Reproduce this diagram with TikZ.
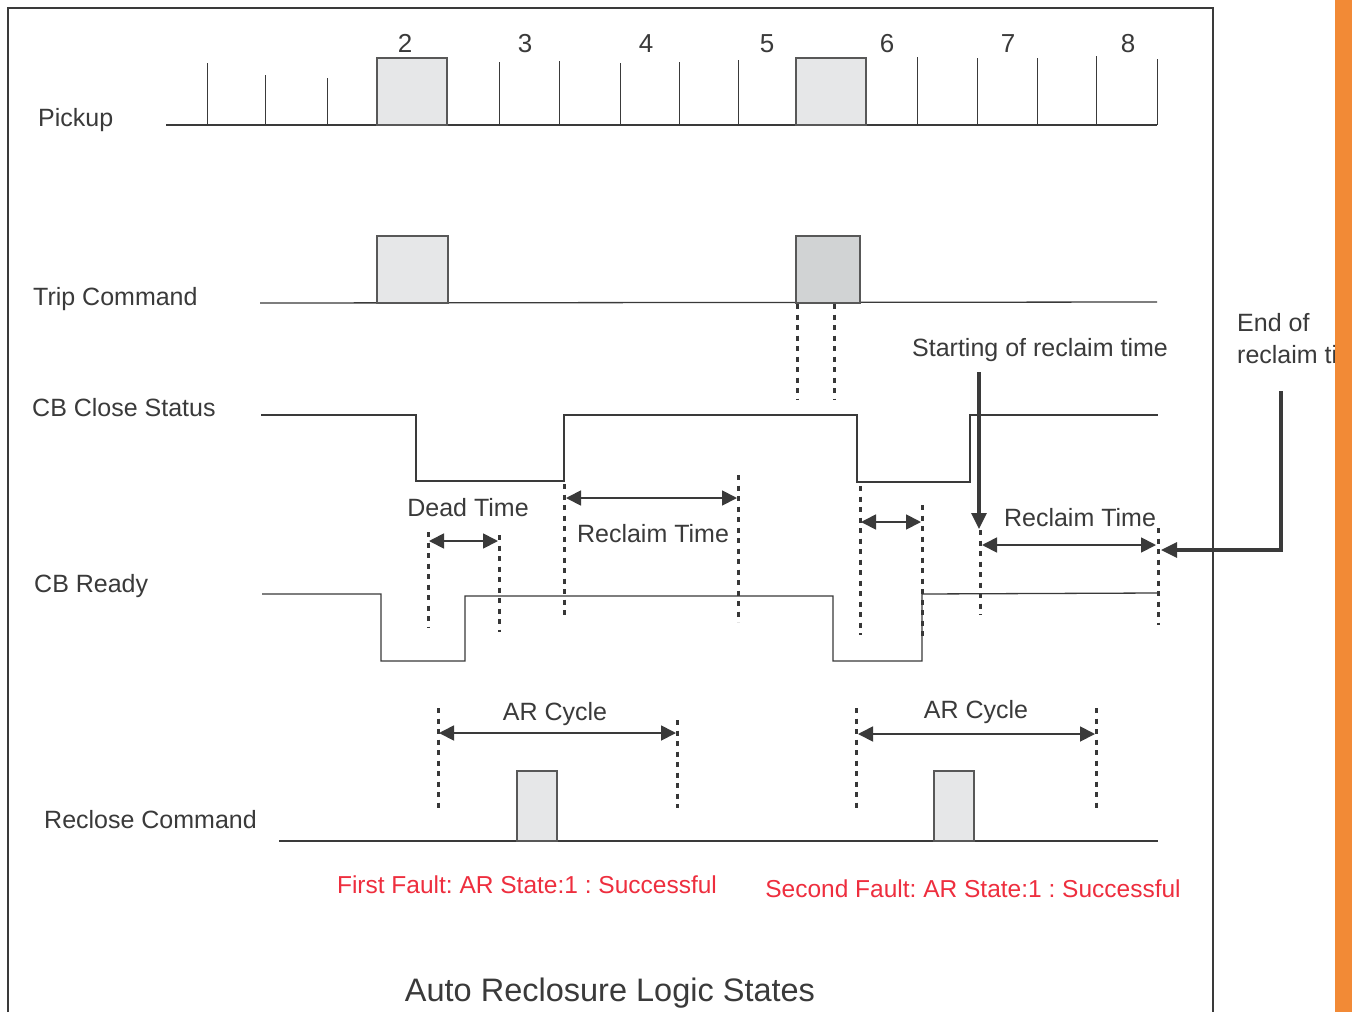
\documentclass[tikz,border=0pt]{standalone}
\usepackage{fontspec}
\setmainfont{Liberation Sans}
\usetikzlibrary{arrows.meta}
\definecolor{ln}{HTML}{3A3A3A}
\definecolor{boxfill}{HTML}{E6E7E8}
\definecolor{boxdark}{HTML}{D1D3D4}
\definecolor{redtxt}{HTML}{EE2E3E}
\definecolor{orangebar}{HTML}{F28A36}
\frenchspacing
\begin{document}
\begin{tikzpicture}[x=1pt,y=-1pt,
  sig/.style={draw=ln,line width=1.3pt},
  tickline/.style={draw=ln,line width=1pt},
  pulse/.style={draw=ln!85,line width=1.2pt,fill=boxfill},
  dots/.style={draw=ln!95!black,line width=3pt,dash pattern=on 5pt off 5.5pt},
  dim/.style={draw=ln,line width=1.8pt,{Triangle[length=15pt,width=15pt]}-{Triangle[length=15pt,width=15pt]}},
  pointer/.style={draw=ln,line width=3.2pt,-{Triangle[length=16pt,width=15pt]}},
  lbl/.style={font=\fontsize{25}{28}\selectfont,text=ln,inner sep=0pt},
  num/.style={font=\fontsize{26}{30}\selectfont,text=ln,inner sep=0pt,anchor=base},
  redlbl/.style={font=\fontsize{24.5}{28}\selectfont,text=redtxt,inner sep=0pt,anchor=base},
  titlelbl/.style={font=\fontsize{32.5}{36}\selectfont,text=ln,inner sep=0pt,anchor=base}
]
% canvas
\fill[white] (0,0) rectangle (1352,1012);
\useasboundingbox (0,0) rectangle (1352,1012);
% frame
\draw[draw=ln,line width=1.2pt] (8,1012) -- (8,8) -- (1213,8) -- (1213,1012);

% ---------- Pickup ----------
\node[lbl,anchor=base west] (lpick) at (38,126) {Pickup};
\draw[sig] (166,125) -- (1157,125);
\foreach \x/\t in {207/63,265/75,327/78,499/62,559/61,620/63,679/62,738/60,917/57,977/58,1037/58,1096/56,1157/59}
  \draw[tickline] (\x,125) -- (\x,\t);
\draw[pulse] (377,125) rectangle (447,58);
\draw[pulse] (796,125) rectangle (866,58);
\foreach \x/\n in {405/2,525/3,646/4,767/5,887/6,1008/7,1128/8}
  \node[num] (n\n) at (\x,52) {\n};

% ---------- Trip Command ----------
\node[lbl,anchor=base west] (ltrip) at (33,305) {Trip Command};
\draw[sig] (260,303) -- (1157,302);
\draw[pulse] (377,303) rectangle (448,236);
\draw[pulse,fill=boxdark] (796,303) rectangle (860,236);
\draw[dots] (797,304) -- (797,400);
\draw[dots] (834,304) -- (834,400);

% ---------- CB Close Status ----------
\node[lbl,anchor=base west] (lclose) at (32,416) {CB Close Status};
\draw[sig] (261,415) -- (416,415) -- (416,481) -- (564,481) -- (564,415)
  -- (857,415) -- (857,482) -- (970,482) -- (970,415) -- (1158,415);

% reclaim time 1
\draw[dots] (564,484) -- (564,620);
\draw[dots] (738,475) -- (738,622);
\coordinate (rt1a) at (566,498);
\coordinate (rt1b) at (737,498);
\draw[dim] (rt1a) -- (rt1b);
\node[lbl,anchor=base] (lrt1) at (653,542) {Reclaim Time};

% dead time 1
\node[lbl,anchor=base] (ldt) at (468,516) {Dead Time};
\draw[dots] (428,532) -- (428,628);
\draw[dots] (499,535) -- (499,632);
\coordinate (dt1a) at (429,541);
\coordinate (dt1b) at (498,541);
\draw[dim] (dt1a) -- (dt1b);

% dead time 2
\draw[dots] (860,486) -- (860,635);
\draw[dots] (922,505) -- (922,640);
\coordinate (dt2a) at (861,522);
\coordinate (dt2b) at (921,522);
\draw[dim] (dt2a) -- (dt2b);

% reclaim time 2
\draw[dots] (980,530) -- (980,615);
\draw[dots] (1158,528) -- (1158,625);
\coordinate (rt2a) at (982,545);
\coordinate (rt2b) at (1156,545);
\draw[dim] (rt2a) -- (rt2b);
\node[lbl,anchor=base] (lrt2) at (1080,526) {Reclaim Time};

% starting of reclaim time
\node[lbl,anchor=base] (lstart) at (1040,356) {Starting of reclaim time};
\coordinate (st0) at (979,372);
\coordinate (st1) at (979,529);
\draw[pointer] (st0) -- (st1);

% ---------- CB Ready ----------
\node[lbl,anchor=base west] (lready) at (34,592) {CB Ready};
\draw[sig] (262,594) -- (381,594) -- (381,661) -- (465,661) -- (465,596)
  -- (833,596) -- (833,661) -- (922,661) -- (922,594) -- (1157,593);

% ---------- AR cycles ----------
\draw[dots] (438,708) -- (438,808);
\draw[dots] (677,720) -- (677,808);
\coordinate (ar1a) at (439,733);
\coordinate (ar1b) at (676,733);
\draw[dim] (ar1a) -- (ar1b);
\node[lbl,anchor=base] (lar1) at (555,720) {AR Cycle};

\draw[dots] (856,708) -- (856,808);
\draw[dots] (1096,708) -- (1096,808);
\coordinate (ar2a) at (858,734);
\coordinate (ar2b) at (1095,734);
\draw[dim] (ar2a) -- (ar2b);
\node[lbl,anchor=base] (lar2) at (976,718) {AR Cycle};

% ---------- Reclose Command ----------
\node[lbl,anchor=base west] (lreclose) at (44,828) {Reclose Command};
\draw[sig] (279,841) -- (1158,841);
\draw[pulse] (517,841) rectangle (557,771);
\draw[pulse] (934,841) rectangle (974,771);

% ---------- result texts ----------
\node[redlbl] (first) at (527,893) {First Fault: AR State:1 : Successful};
\node[redlbl] (second) at (973,897) {Second Fault: AR State:1 : Successful};
\node[titlelbl] (title) at (610,1001) {Auto Reclosure Logic States};

% ---------- end of reclaim time ----------
\node[lbl,anchor=base west] (lend1) at (1237,331) {End of};
\node[lbl,anchor=base west] (lend2) at (1237,363) {reclaim time};
\coordinate (en0) at (1281,391);
\coordinate (en1) at (1281,550);
\coordinate (en2) at (1161,550);
\draw[pointer] (en0) -- (en1) -- (en2);

% orange side bar
\fill[orangebar] (1335,0) rectangle (1352,1012);
\end{tikzpicture}
\end{document}
